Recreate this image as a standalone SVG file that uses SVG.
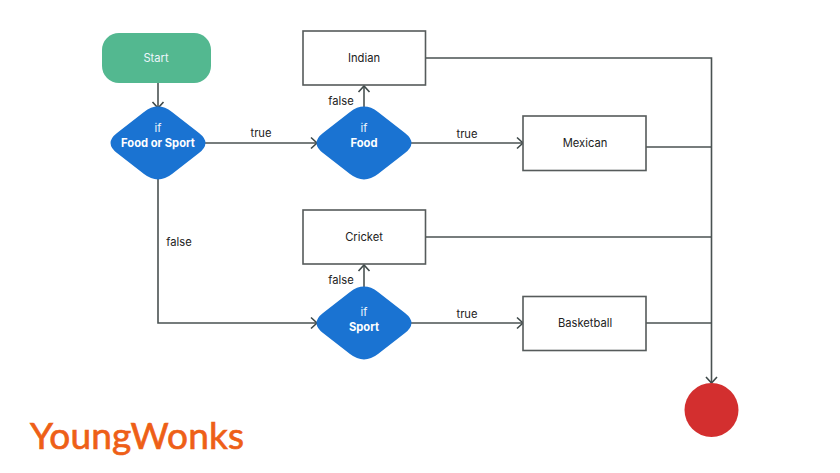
<svg xmlns="http://www.w3.org/2000/svg" width="840" height="473" viewBox="0 0 840 473">
<defs>
<marker id="arrow" markerUnits="userSpaceOnUse" markerWidth="14" markerHeight="14" refX="10" refY="7" orient="auto"><path d="M4,1.500 L10,7 L4,12.500" fill="none" stroke="#3f4a4a" stroke-width="1.6"/></marker>
<path id="dia" d="M-14,-31 Q0,-41.900 14,-31 L41,-10 Q53.900,0 41,10 L14,31 Q0,41.900 -14,31 L-41,10 Q-53.900,0 -41,-10Z"/>
</defs>
<style>
text{font-family:"Inter","Noto Sans","Liberation Sans",sans-serif;font-size:11.2px;text-anchor:middle;fill:#222}
.box{fill:#fff;stroke:#565b5b;stroke-width:1.6}
.dec{fill:#1a73d2}
.w{fill:#eef6fc}
.b{font-weight:700;fill:#fff}
.c{fill:none;stroke:#4a5252;stroke-width:1.6}
</style>
<rect width="840" height="473" fill="#fff"/>
<g id="connectors">
<path class="c" d="M158,83V108" marker-end="url(#arrow)"/>
<path class="c" d="M204,143H317" marker-end="url(#arrow)"/>
<path class="c" d="M364,108V86" marker-end="url(#arrow)"/>
<path class="c" d="M411,143H523" marker-end="url(#arrow)"/>
<path class="c" d="M158,178V323H317" marker-end="url(#arrow)"/>
<path class="c" d="M364,288V265" marker-end="url(#arrow)"/>
<path class="c" d="M411,323H523" marker-end="url(#arrow)"/>
<path class="c" d="M426,58H711.500V383" marker-end="url(#arrow)"/>
<path class="c" d="M646,147H711"/>
<path class="c" d="M426,237H711"/>
<path class="c" d="M646,323H711"/>
<text x="261" y="137">true</text>
<text x="341" y="105">false</text>
<text x="467" y="138">true</text>
<text x="179" y="246">false</text>
<text x="341" y="284">false</text>
<text x="467" y="318">true</text>
</g>
<g id="start"><rect x="102" y="33" width="109" height="50" rx="17" fill="#53b890"/><text x="156" y="62" class="w">Start</text></g>
<g id="food-or-sport"><use href="#dia" x="158" y="143" class="dec"/><text x="158" y="132" class="w">if</text><text x="158" y="147" class="b">Food or Sport</text></g>
<g id="food"><use href="#dia" x="364" y="143" class="dec"/><text x="364" y="132" class="w">if</text><text x="364" y="147" class="b">Food</text></g>
<g id="sport"><use href="#dia" x="364" y="323" class="dec"/><text x="364" y="316" class="w">if</text><text x="364" y="331" class="b">Sport</text></g>
<g id="indian"><rect class="box" x="303" y="31" width="122.500" height="54"/><text x="364" y="62">Indian</text></g>
<g id="mexican"><rect class="box" x="523" y="116" width="123" height="54.500"/><text x="585" y="147">Mexican</text></g>
<g id="cricket"><rect class="box" x="303" y="210" width="122.500" height="54"/><text x="364" y="241">Cricket</text></g>
<g id="basketball"><rect class="box" x="523" y="296.500" width="123" height="54"/><text x="585" y="327">Basketball</text></g>
<g id="end"><circle cx="711.500" cy="410" r="27" fill="#d32f2f"/></g>
<text x="137" y="449" textLength="214" lengthAdjust="spacing" style="font-family:'Lato','Open Sans',sans-serif;font-size:37px;fill:#ee5f17;stroke:#ee5f17;stroke-width:0.7">YoungWonks</text>
</svg>
